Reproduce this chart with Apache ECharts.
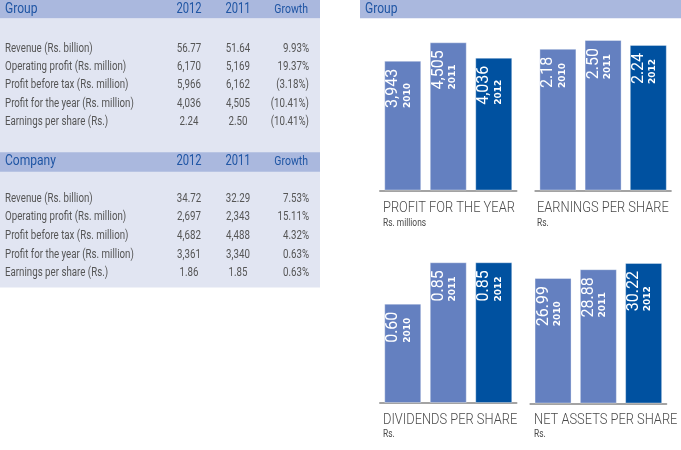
<!DOCTYPE html>
<html>
<head>
<meta charset="utf-8">
<script src="https://cdn.jsdelivr.net/npm/echarts@6/dist/echarts.min.js"></script>
<style>
  html, body { margin: 0; padding: 0; background: #ffffff; }
  #chart { width: 681px; height: 450px; }
</style>
</head>
<body>
<div id="chart"></div>
<script>
// ---------- data ----------
const years = ['2010', '2011', '2012'];
const profitForYear = [3943, 4505, 4036];
const earningsPerShare = [2.18, 2.50, 2.24];
const dividendsPerShare = [0.60, 0.85, 0.85];
const netAssetsPerShare = [26.99, 28.88, 30.22];

const tableColumns = ['2012', '2011', 'Growth'];
const rowLabels = [
  'Revenue (Rs. billion)',
  'Operating profit (Rs. million)',
  'Profit before tax (Rs. million)',
  'Profit for the year (Rs. million)',
  'Earnings per share (Rs.)'
];
const group2012 = ['56.77', '6,170', '5,966', '4,036', '2.24'];
const group2011 = ['51.64', '5,169', '6,162', '4,505', '2.50'];
const groupGrowth = ['9.93%', '19.37%', '(3.18%)', '(10.41%)', '(10.41%)'];
const company2012 = ['34.72', '2,697', '4,682', '3,361', '1.86'];
const company2011 = ['32.29', '2,343', '4,488', '3,340', '1.85'];
const companyGrowth = ['7.53%', '15.11%', '4.32%', '0.63%', '0.63%'];

// ---------- styles ----------
const FONT = "Roboto, 'Noto Sans', sans-serif";
const LIGHT_BAR = '#6480c0';
const DARK_BAR = '#0051a0';
const BAND = '#aab8de';
const PANEL = '#e1e5f2';
const HEAD_TXT = '#1f55a4';
const BODY_TXT = '#555555';

function fmtThousands(v) { return v.toLocaleString('en-US'); }
function fmt2(v) { return v.toFixed(2); }

const panels = [
  { data: profitForYear, fmt: fmtThousands, left: 380, width: 136.5, top: 40.5, max: 4560,
    title: 'PROFIT FOR THE YEAR', sub: 'Rs. millions', tx: 383, ty: 208.5 },
  { data: earningsPerShare, fmt: fmt2, left: 535.3, width: 135.6, top: 40.5, max: 2.308,
    title: 'EARNINGS PER SHARE', sub: 'Rs.', tx: 537, ty: 208.5 },
  { data: dividendsPerShare, fmt: fmt2, left: 380, width: 136.5, top: 253, max: 0.906,
    title: 'DIVIDENDS PER SHARE', sub: 'Rs.', tx: 383, ty: 420 },
  { data: netAssetsPerShare, fmt: fmt2, left: 530.4, width: 135.9, top: 253.5, max: 32.26,
    title: 'NET ASSETS PER SHARE', sub: 'Rs.', tx: 534, ty: 420 }
];

const grids = [], xAxes = [], yAxes = [], series = [];
panels.forEach((p, i) => {
  grids.push({ left: p.left, top: p.top, width: p.width, height: 150, containLabel: false });
  xAxes.push({
    type: 'category', gridIndex: i, data: years, offset: 4,
    axisLine: { show: true, lineStyle: { color: '#a3a3a3', width: 2 } },
    axisTick: { show: false }, axisLabel: { show: false }, splitLine: { show: false }
  });
  yAxes.push({ type: 'value', gridIndex: i, min: 0, max: p.max, show: false, splitLine: { show: false } });
  series.push({
    type: 'bar', xAxisIndex: i, yAxisIndex: i, barWidth: 37,
    data: p.data.map((v, k) => ({
      value: v,
      itemStyle: { color: k === p.data.length - 1 ? DARK_BAR : LIGHT_BAR }
    })),
    itemStyle: { borderColor: 'rgba(255,255,255,0.35)', borderWidth: 1 },
    label: {
      show: true, position: 'insideTop', distance: 8, rotate: 90,
      align: 'right', verticalAlign: 'middle', offset: [0, -4],
      formatter: (q) => '{v|' + p.fmt(q.value) + '}\n{y|' + q.name + '}',
      rich: {
        v: { fontSize: 16, fontFamily: FONT, fontWeight: 'normal', color: '#ffffff', align: 'left', lineHeight: 17 },
        y: { fontSize: 9, fontFamily: 'DejaVu Sans', fontWeight: 'bold', color: '#ffffff', align: 'left', lineHeight: 11 }
      }
    },
    silent: true, animation: false
  });
});

// ---------- graphic: tables, bands, titles ----------
const graphics = [];
graphics.push({ type: 'rect', shape: { x: 0, y: 18.3, width: 320, height: 269.2 }, style: { fill: PANEL }, silent: true });
graphics.push({ type: 'rect', shape: { x: 0, y: 0, width: 320, height: 18.3 }, style: { fill: BAND }, silent: true });
graphics.push({ type: 'rect', shape: { x: 0, y: 152.3, width: 320, height: 19.4 }, style: { fill: BAND }, silent: true });
graphics.push({ type: 'rect', shape: { x: 360, y: 0, width: 321, height: 18.3 }, style: { fill: BAND }, silent: true });

function txt(text, x, y, size, color, align, weight, squeeze) {
  graphics.push({
    type: 'text', x: x, y: y, scaleX: squeeze, silent: true,
    style: {
      text: text, fill: color, align: align || 'left', verticalAlign: 'middle',
      font: (weight || 'normal') + ' ' + size + 'px ' + FONT
    }
  });
}

const colX = [189, 238, 309];
const colAlign = ['center', 'center', 'right'];

function table(title, headY, rowY0, rowStep, c2012, c2011, cGrowth) {
  txt(title, 5, headY, 14, HEAD_TXT, 'left', 'normal', 0.86);
  txt(tableColumns[0], colX[0], headY, 14, HEAD_TXT, 'center', 'normal', 0.8);
  txt(tableColumns[1], colX[1], headY, 14, HEAD_TXT, 'center', 'normal', 0.8);
  txt(tableColumns[2], 308, headY + 0.5, 12.5, HEAD_TXT, 'right', 'normal', 0.84);
  rowLabels.forEach((lab, r) => {
    const y = rowY0 + r * rowStep;
    txt(lab, 5, y, 12, BODY_TXT, 'left', 'normal', 0.81);
    txt(c2012[r], colX[0], y, 12, BODY_TXT, colAlign[0], 'normal', 0.81);
    txt(c2011[r], colX[1], y, 12, BODY_TXT, colAlign[1], 'normal', 0.81);
    txt(cGrowth[r], colX[2], y, 12, BODY_TXT, colAlign[2], 'normal', 0.81);
  });
}
table('Group', 9.5, 48.7, 18.3, group2012, group2011, groupGrowth);
table('Company', 161.7, 198.7, 18.6, company2012, company2011, companyGrowth);

txt('Group', 365, 9.5, 14, HEAD_TXT, 'left', 'normal', 0.86);

panels.forEach((p) => {
  txt(p.title, p.tx, p.ty, 15.5, '#4a4a4a', 'left', 300, 0.83);
  txt(p.sub, p.tx, p.ty + 14.5, 10.5, '#4a4a4a', 'left', 'normal', 0.8);
});

const chart = echarts.init(document.getElementById('chart'), null, { renderer: 'canvas' });
chart.setOption({
  animation: false,
  backgroundColor: '#ffffff',
  grid: grids,
  xAxis: xAxes,
  yAxis: yAxes,
  series: series,
  graphic: graphics
});
</script>
</body>
</html>
